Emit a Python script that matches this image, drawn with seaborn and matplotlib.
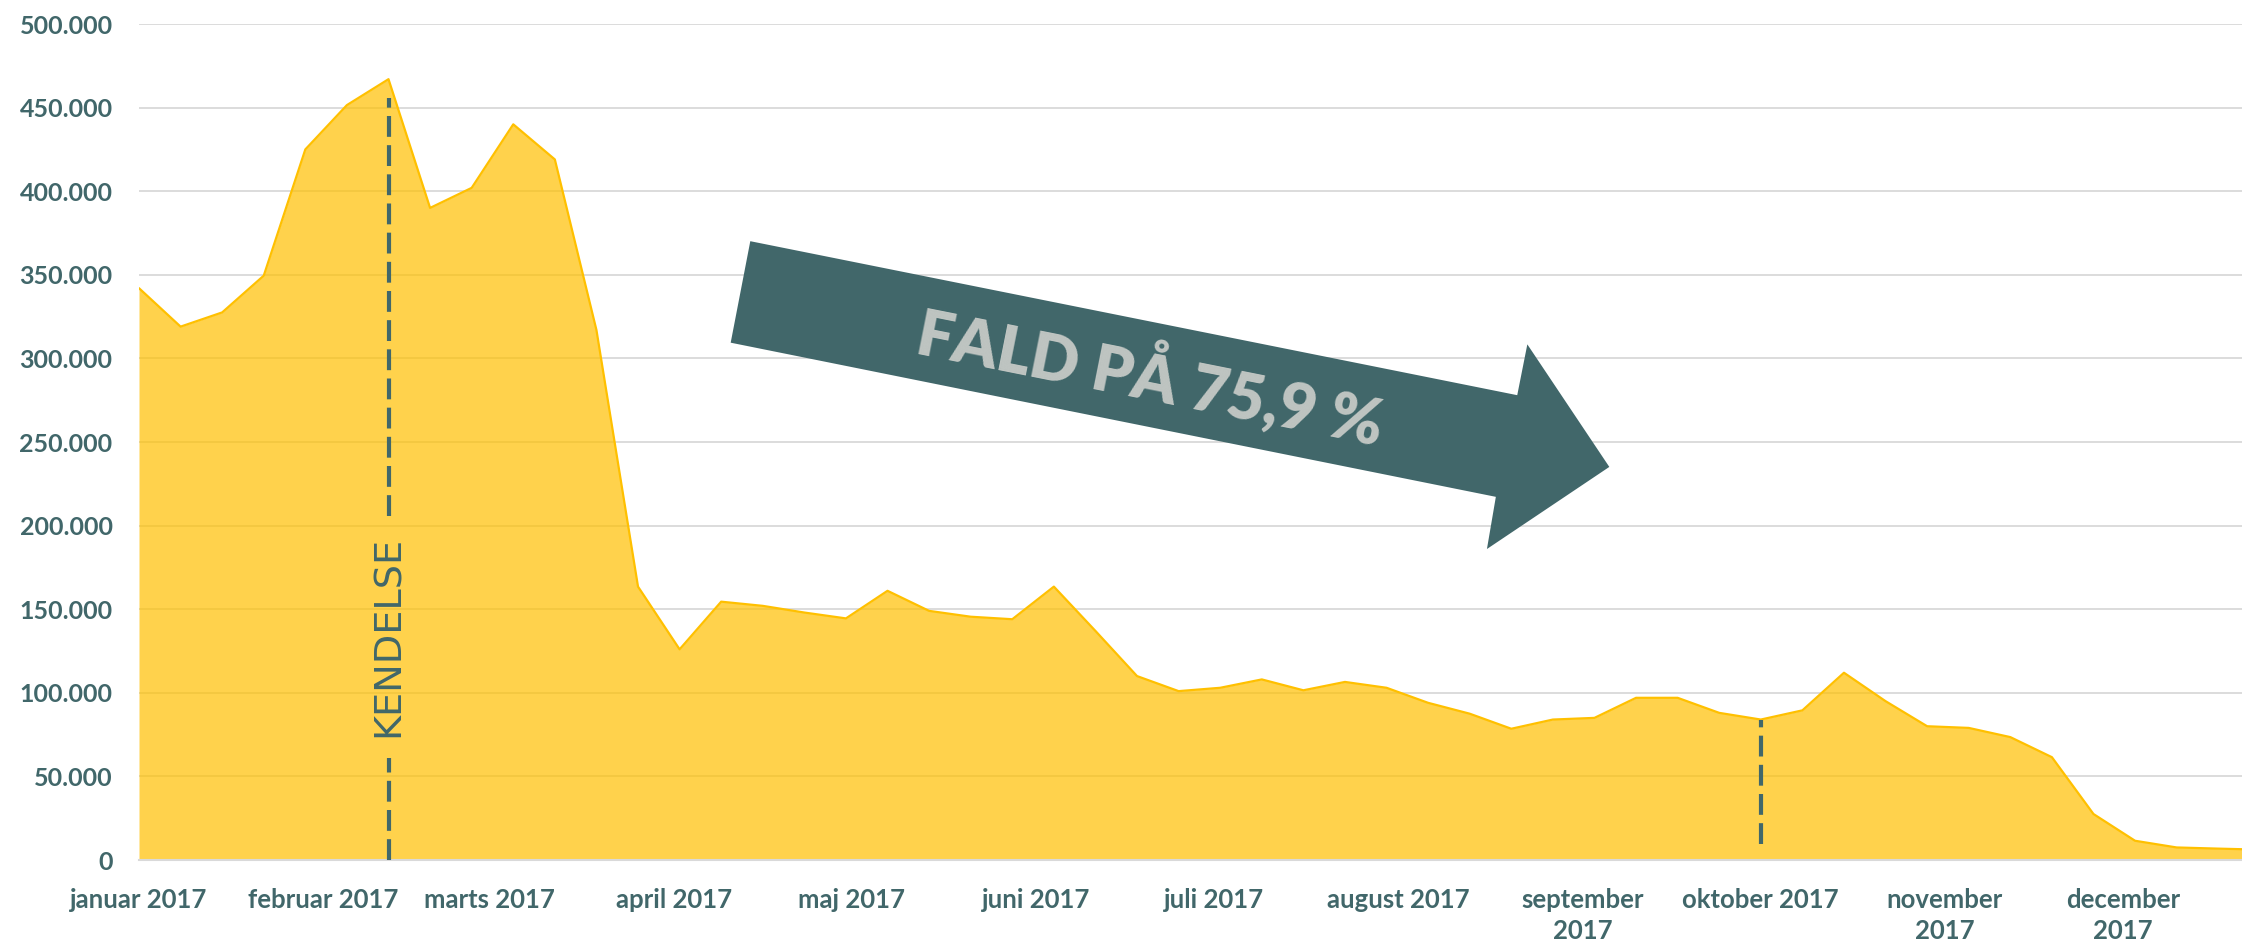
import datetime as dt
import numpy as np
import pandas as pd
import matplotlib
matplotlib.use('Agg')
import matplotlib.pyplot as plt
import matplotlib.dates as mdates
from matplotlib.patches import Polygon
import seaborn as sns

# ── Data (weekly) ─────────────────────────────────────────────
START = dt.date(2017, 1, 1)
weekly_values = [
    342000, 319000, 327500, 349500, 425000, 451500, 467000, 390000,
    402000, 440000, 419000, 317000, 163500, 126000, 154500, 152000,
    148000, 144500, 161000, 149000, 145500, 144000, 163500, 137000,
    110000, 101000, 103000, 108000, 101500, 106500, 103000, 94000,
    87500, 78500, 84000, 85000, 97000, 97000, 88000, 84000,
    89500, 112000, 95000, 80000, 79000, 73500, 61500, 27500,
    11500, 7500, 6800, 6200,
]
month_labels = [
    "januar 2017", "februar 2017", "marts 2017", "april 2017",
    "maj 2017", "juni 2017", "juli 2017", "august 2017",
    "september\n2017", "oktober 2017", "november\n2017", "december\n2017",
]
y_ticks = [0, 50000, 100000, 150000, 200000, 250000, 300000, 350000, 400000, 450000, 500000]

# markers: (week index, dashed segments)
kendelse_week = 6
kendelse_segments = [(206000, 456000), (0, 61000)]
oktober_week = 39
oktober_segment = (9500, 84000)
arrow_text = "FALD PÅ 75,9 %"

# ── Style ─────────────────────────────────────────────────────
TEAL = "#41676A"
YELLOW = "#FFC000"
GRID = "#D9D9D9"

sns.set_theme(style="white")
plt.rcParams['font.family'] = ['Lato', 'DejaVu Sans']

dates = pd.to_datetime([START + dt.timedelta(days=7 * i) for i in range(len(weekly_values))])
df = pd.DataFrame({"dato": dates, "antal": weekly_values})

fig = plt.figure(figsize=(22.42, 9.47), dpi=100)
ax = fig.add_axes([139 / 2242, 87 / 947, (2242 - 139) / 2242, 836 / 947])

ax.fill_between(df["dato"], df["antal"], 0, color=YELLOW, alpha=0.7, linewidth=0, zorder=2)
sns.lineplot(data=df, x="dato", y="antal", color=YELLOW, linewidth=1.6, ax=ax, zorder=3)

# axes limits / ticks
ax.set_xlim(pd.Timestamp("2017-01-01"), pd.Timestamp("2017-12-21"))
ax.set_ylim(0, 500000)
ax.set_yticks(y_ticks)
ax.set_yticklabels([f"{v:,.0f}".replace(",", ".") for v in y_ticks])
month_starts = pd.date_range("2017-01-01", periods=12, freq="MS")
ax.set_xticks(month_starts)
ax.set_xticklabels(month_labels, linespacing=1.35)
ax.set_xlabel("")
ax.set_ylabel("")

ax.grid(axis='y', color=GRID, linewidth=1.3, zorder=1)
ax.grid(axis='x', visible=False)
ax.set_axisbelow(True)
for side in ['top', 'right', 'left']:
    ax.spines[side].set_visible(False)
ax.spines['bottom'].set_color(GRID)
ax.spines['bottom'].set_linewidth(1.5)
ax.spines['bottom'].set_zorder(4)

ax.tick_params(axis='y', length=0, pad=19, labelsize=18, labelcolor=TEAL)
ax.tick_params(axis='x', length=6, width=1.3, color=GRID, direction='out',
               pad=14, labelsize=18.5, labelcolor=TEAL)
for lbl in ax.get_xticklabels() + ax.get_yticklabels():
    lbl.set_fontweight('bold')

# dashed marker lines
k_date = dates[kendelse_week]
for lo, hi in kendelse_segments:
    ax.plot([k_date, k_date], [lo, hi], color=TEAL, linewidth=3.0,
            linestyle=(0, (5.0, 2.0)), zorder=5)
ax.text(k_date, 134000, "KENDELSE", rotation=90, ha='center', va='center',
        fontsize=27.5, color=TEAL, family=['DejaVu Sans'], zorder=5)

o_date = dates[oktober_week]
ax.plot([o_date, o_date], list(oktober_segment), color=TEAL, linewidth=3.0,
        linestyle=(0, (5.0, 2.0)), zorder=5)

# big arrow (day offset from start, value)
arrow_pts = [(102.9, 370100), (232.0, 278000), (233.7, 308400), (247.5, 235100),
             (226.9, 186000), (228.4, 217200), (99.6, 309400)]
base = mdates.date2num(pd.Timestamp(START))
poly = Polygon([(base + d, v) for d, v in arrow_pts], closed=True,
               facecolor=TEAL, edgecolor='none', zorder=6)
ax.add_patch(poly)
ax.text(base + 170.3, 289800, arrow_text, rotation=-11.3, rotation_mode='anchor',
        ha='center', va='center', fontsize=46, fontweight='heavy',
        color="#BFC5C2", zorder=7)

fig.savefig("out.png", dpi=100)
